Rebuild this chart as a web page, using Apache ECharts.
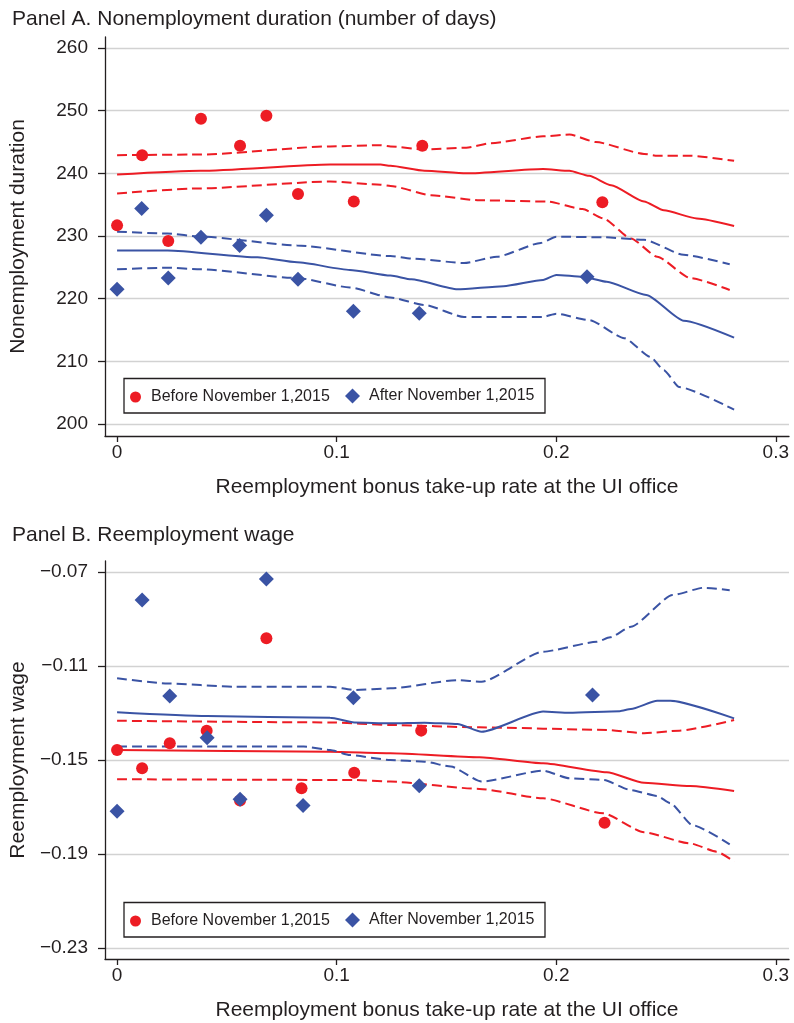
<!DOCTYPE html>
<html>
<head>
<meta charset="utf-8">
<script src="https://cdn.jsdelivr.net/npm/echarts@6/dist/echarts.min.js"></script>
<style>
  html, body { margin: 0; padding: 0; background: #ffffff; }
  #chart { width: 794px; height: 1023px; }
</style>
</head>
<body>
<div id="chart"></div>
<script>
// ---- Panel A: nonemployment duration (days) ----
const beforeA_x = [0, 0.0114, 0.0233, 0.0382, 0.056, 0.068, 0.0824, 0.1078, 0.139, 0.221];
const beforeA_y = [231.7, 242.9, 229.2, 248.7, 244.4, 249.2, 236.7, 235.5, 244.4, 235.4];
const afterA_x = [0, 0.0112, 0.0233, 0.0382, 0.0558, 0.068, 0.0824, 0.1076, 0.1376, 0.214];
const afterA_y = [221.5, 234.4, 223.3, 229.8, 228.5, 233.3, 223.1, 218.0, 217.7, 223.5];

// fitted curves with 95% bands, as [rate, value]
const fitBeforeA = [[0, 239.8], [0.038, 240.4], [0.097, 241.4], [0.12, 241.4], [0.1245, 241.2], [0.14, 240.4], [0.159, 240.0], [0.194, 240.7], [0.206, 240.4], [0.215, 239.6], [0.225, 238.1], [0.24, 235.5], [0.249, 234.1], [0.264, 232.8], [0.281, 231.6]];
const upBeforeA = [[0, 242.9], [0.038, 243.0], [0.097, 244.3], [0.12, 244.5], [0.1245, 244.3], [0.14, 243.8], [0.159, 244.1], [0.17, 244.8], [0.194, 245.9], [0.206, 246.2], [0.218, 245.0], [0.24, 243.1], [0.246, 242.8], [0.261, 242.8], [0.281, 242.0]];
const loBeforeA = [[0, 236.8], [0.038, 237.6], [0.097, 238.7], [0.12, 238.2], [0.1245, 238.0], [0.143, 236.5], [0.165, 235.7], [0.196, 235.5], [0.212, 234.3], [0.2215, 232.8], [0.234, 229.6], [0.246, 226.7], [0.261, 223.3], [0.279, 221.4]];
const fitAfterA = [[0, 227.7], [0.023, 227.7], [0.064, 226.6], [0.082, 225.8], [0.106, 224.6], [0.1245, 223.7], [0.134, 223.1], [0.155, 221.5], [0.176, 222.0], [0.194, 223.0], [0.2, 223.8], [0.212, 223.5], [0.223, 222.7], [0.241, 220.6], [0.258, 216.5], [0.281, 213.8]];
const upAfterA = [[0, 230.7], [0.023, 230.4], [0.038, 229.9], [0.082, 228.5], [0.1245, 226.8], [0.134, 226.4], [0.158, 225.7], [0.173, 226.7], [0.193, 228.9], [0.2, 229.9], [0.2215, 229.8], [0.24, 229.4], [0.258, 227.0], [0.279, 225.5]];
const loAfterA = [[0, 224.7], [0.023, 224.95], [0.038, 224.7], [0.082, 223.3], [0.106, 221.8], [0.1245, 220.2], [0.14, 219.0], [0.158, 217.1], [0.194, 217.1], [0.2, 217.6], [0.215, 216.6], [0.231, 213.7], [0.243, 210.7], [0.249, 208.6], [0.256, 205.9], [0.281, 202.3]];

// ---- Panel B: reemployment wage ----
const beforeB_x = [0, 0.0114, 0.024, 0.0408, 0.056, 0.068, 0.084, 0.108, 0.1385, 0.222];
const beforeB_y = [-0.1457, -0.1535, -0.1429, -0.1375, -0.1672, -0.0982, -0.162, -0.1554, -0.1375, -0.1767];
const afterB_x = [0, 0.0114, 0.024, 0.041, 0.056, 0.068, 0.0847, 0.1076, 0.1376, 0.2165];
const afterB_y = [-0.1718, -0.0819, -0.1228, -0.1405, -0.1667, -0.073, -0.1694, -0.1235, -0.161, -0.1223];

const fitBeforeB = [[0, -0.1457], [0.097, -0.1465], [0.1245, -0.1471], [0.165, -0.1488], [0.194, -0.1514], [0.223, -0.1552], [0.24, -0.1597], [0.261, -0.1611], [0.281, -0.1632]];
const upBeforeB = [[0, -0.1333], [0.097, -0.134], [0.1245, -0.1351], [0.165, -0.1361], [0.223, -0.1372], [0.24, -0.1386], [0.256, -0.1375], [0.281, -0.133]];
const loBeforeB = [[0, -0.1582], [0.108, -0.1585], [0.1245, -0.1592], [0.165, -0.1623], [0.194, -0.1663], [0.2215, -0.1727], [0.24, -0.1808], [0.261, -0.1855], [0.273, -0.189], [0.281, -0.1933]];
const fitAfterB = [[0, -0.1297], [0.041, -0.1313], [0.097, -0.132], [0.108, -0.134], [0.1245, -0.1344], [0.14, -0.1341], [0.155, -0.1347], [0.166, -0.138], [0.194, -0.1294], [0.206, -0.1299], [0.229, -0.1292], [0.234, -0.1283], [0.246, -0.1248], [0.252, -0.1248], [0.281, -0.1323]];
const upAfterB = [[0, -0.1152], [0.023, -0.1174], [0.053, -0.1188], [0.097, -0.1188], [0.108, -0.1202], [0.1245, -0.1195], [0.155, -0.116], [0.166, -0.1167], [0.194, -0.1039], [0.2185, -0.0997], [0.2245, -0.0978], [0.234, -0.0933], [0.253, -0.0798], [0.267, -0.0767], [0.279, -0.0777]];
const loAfterB = [[0, -0.1443], [0.053, -0.1443], [0.085, -0.1443], [0.097, -0.1457], [0.106, -0.1479], [0.1245, -0.15], [0.14, -0.1507], [0.152, -0.1528], [0.166, -0.1592], [0.194, -0.1545], [0.206, -0.1578], [0.2215, -0.1585], [0.234, -0.1628], [0.246, -0.1653], [0.252, -0.1684], [0.262, -0.1777], [0.279, -0.1859]];

// axis ticks
const xTicks = [0, 0.1, 0.2, 0.3];
const yTicksA = [200, 210, 220, 230, 240, 250, 260];
const yTicksB = [-0.23, -0.19, -0.15, -0.11, -0.07];

const RED = '#ed1c24';
const BLUE = '#3a53a4';
const INK = '#231f20';
const FONT = '"Liberation Sans", Arial, Helvetica, sans-serif';
const BEFORE = 'Before November 1,2015';
const AFTER = 'After November 1,2015';

const zip = (xs, ys) => xs.map((x, i) => [x, ys[i]]);

function xAxisFor(gridIndex) {
  return {
    type: 'value', gridIndex,
    min: -0.0055, max: 0.306,
    name: 'Reemployment bonus take-up rate at the UI office',
    nameLocation: 'middle', nameGap: 41,
    nameTextStyle: { fontFamily: FONT, fontSize: 21, color: INK },
    axisLine: { show: true, onZero: false, lineStyle: { color: INK, width: 1.3 } },
    axisTick: { show: true, length: 6, customValues: xTicks, lineStyle: { color: INK, width: 1.3 } },
    axisLabel: { customValues: xTicks, margin: 7, fontFamily: FONT, fontSize: 19, color: INK,
      formatter: v => (Math.abs(v) < 1e-9 ? '0' : String(+v.toFixed(1))) },
    splitLine: { show: false }
  };
}

function yAxisFor(gridIndex, min, max, ticks, name, fmt) {
  return {
    type: 'value', gridIndex, min, max,
    name, nameLocation: 'middle', nameGap: 76, nameRotate: 90,
    nameTextStyle: { fontFamily: FONT, fontSize: 21, color: INK },
    axisLine: { show: true, onZero: false, lineStyle: { color: INK, width: 1.3 } },
    axisTick: { show: true, length: 7, customValues: ticks, lineStyle: { color: INK, width: 1.3 } },
    axisLabel: { customValues: ticks, margin: 17, fontFamily: FONT, fontSize: 19, color: INK, formatter: fmt },
    splitLine: { show: true, lineStyle: { color: '#d2d2d2', width: 1.3 } }
  };
}

function band(data, color, xi, dashed) {
  return {
    type: 'line', xAxisIndex: xi, yAxisIndex: xi, data,
    showSymbol: false, silent: true, smooth: 0.2, smoothMonotone: 'x',
    lineStyle: { color, width: 2, type: dashed ? [10, 5] : 'solid' },
    z: 2
  };
}

function dots(name, data, color, symbol, size, xi) {
  return {
    type: 'scatter', name, xAxisIndex: xi, yAxisIndex: xi, data,
    symbol, symbolSize: size, itemStyle: { color, opacity: 1 }, z: 5
  };
}

function legendItem(name, icon, size, left, top, gap) {
  return {
    data: [{ name, icon }], left, top, padding: 0, orient: 'horizontal',
    itemWidth: size, itemHeight: size, selectedMode: false,
    textStyle: { fontFamily: FONT, fontSize: 16, color: INK, padding: [0, 0, 0, gap] }
  };
}

const chart = echarts.init(document.getElementById('chart'), null, { renderer: 'canvas' });
chart.setOption({
  backgroundColor: '#ffffff',
  animation: false,
  title: [
    { text: 'Panel A. Nonemployment duration (number of days)', left: 7, top: 4,
      textStyle: { fontFamily: FONT, fontSize: 21, fontWeight: 'normal', color: INK } },
    { text: 'Panel B. Reemployment wage', left: 7, top: 520,
      textStyle: { fontFamily: FONT, fontSize: 21, fontWeight: 'normal', color: INK } }
  ],
  grid: [
    { left: 104, top: 37, width: 685, height: 399, containLabel: false },
    { left: 104, top: 561, width: 685, height: 398, containLabel: false }
  ],
  xAxis: [xAxisFor(0), xAxisFor(1)],
  yAxis: [
    yAxisFor(0, 198.1, 261.75, yTicksA, 'Nonemployment duration', v => String(Math.round(v))),
    yAxisFor(1, -0.2347, -0.0653, yTicksB, 'Reemployment wage',
      v => '\u2212' + Math.abs(v).toFixed(2))
  ],
  legend: [
    legendItem(BEFORE, 'circle', 11, 130, 389, 5),
    legendItem(AFTER, 'diamond', 15, 345, 388, 4),
    legendItem(BEFORE, 'circle', 11, 130, 913, 5),
    legendItem(AFTER, 'diamond', 15, 345, 912, 4)
  ],
  graphic: [
    { type: 'rect', shape: { x: 124, y: 378.5, width: 421, height: 34.5 },
      style: { fill: 'none', stroke: INK, lineWidth: 1.3 }, silent: true },
    { type: 'rect', shape: { x: 124, y: 902.5, width: 421, height: 34.5 },
      style: { fill: 'none', stroke: INK, lineWidth: 1.3 }, silent: true }
  ],
  series: [
    band(fitBeforeA, RED, 0, false),
    band(upBeforeA, RED, 0, true),
    band(loBeforeA, RED, 0, true),
    band(fitAfterA, BLUE, 0, false),
    band(upAfterA, BLUE, 0, true),
    band(loAfterA, BLUE, 0, true),
    dots(BEFORE, zip(beforeA_x, beforeA_y), RED, 'circle', 12, 0),
    dots(AFTER, zip(afterA_x, afterA_y), BLUE, 'diamond', 15, 0),

    band(fitBeforeB, RED, 1, false),
    band(upBeforeB, RED, 1, true),
    band(loBeforeB, RED, 1, true),
    band(fitAfterB, BLUE, 1, false),
    band(upAfterB, BLUE, 1, true),
    band(loAfterB, BLUE, 1, true),
    dots(BEFORE, zip(beforeB_x, beforeB_y), RED, 'circle', 12, 1),
    dots(AFTER, zip(afterB_x, afterB_y), BLUE, 'diamond', 15, 1)
  ]
});
</script>
</body>
</html>
